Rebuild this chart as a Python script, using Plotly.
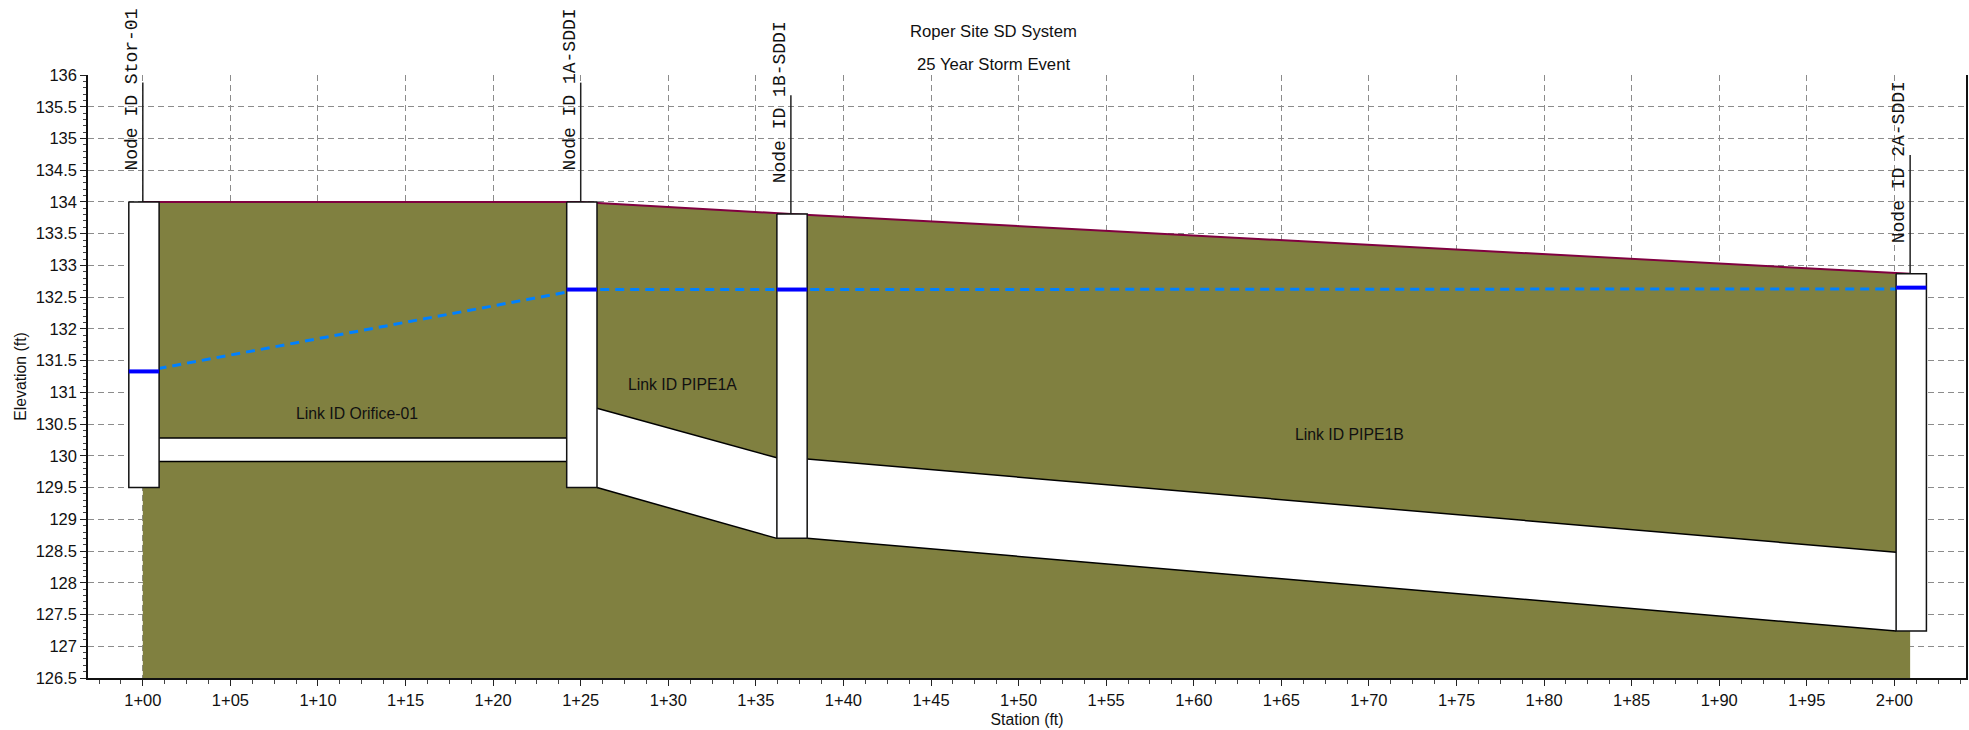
import plotly.graph_objects as go

# ---- data ----
node_ids = ["Stor-01", "1A-SDDI", "1B-SDDI", "2A-SDDI"]
node_station = [100.0, 125.0, 137.0, 200.9]
node_top = [134.0, 134.0, 133.81, 132.87]
node_invert = [129.5, 129.5, 128.7, 127.24]
node_stem_top = [135.88, 135.88, 135.68, 134.74]
node_water = [131.33, 132.62, 132.62, 132.65]
label_center = [135.77, 135.77, 135.57, 134.63]

water_line = [131.33, 132.62, 132.62, 132.63]

link_ids = ["Orifice-01", "PIPE1A", "PIPE1B"]
link_top_up = [130.28, 130.75, 129.95]
link_top_down = [130.28, 129.97, 128.48]
link_inv_up = [129.91, 129.5, 128.7]
link_inv_down = [129.91, 128.7, 127.24]
link_label_x = [112.2, 130.8, 168.9]
link_label_y = [130.66, 131.13, 130.34]

station_ticks = list(range(100, 205, 5))
station_labels = ["1+00", "1+05", "1+10", "1+15", "1+20", "1+25", "1+30", "1+35", "1+40", "1+45",
                  "1+50", "1+55", "1+60", "1+65", "1+70", "1+75", "1+80", "1+85", "1+90", "1+95", "2+00"]
elev_ticks = [126.5, 127, 127.5, 128, 128.5, 129, 129.5, 130, 130.5, 131, 131.5,
              132, 132.5, 133, 133.5, 134, 134.5, 135, 135.5, 136]
elev_labels = ["126.5", "127", "127.5", "128", "128.5", "129", "129.5", "130", "130.5", "131", "131.5",
               "132", "132.5", "133", "133.5", "134", "134.5", "135", "135.5", "136"]
titles = ["Roper Site SD System", "25 Year Storm Event"]

# ---- styles ----
OLIVE = "#808040"
CROWN = "#800040"
WATER = "#0080ff"
BAR = "#0000ff"
SANS = "Liberation Sans"
MONO = "Liberation Mono"
BOX_L, BOX_R = 0.8, 0.93
Y_BOTTOM = elev_ticks[0]

fig = go.Figure()


def poly(xs, ys, fill=None, line=None, width=1.5, dash=None, name=""):
    fig.add_trace(go.Scatter(
        x=xs, y=ys, mode="lines", name=name, hoverinfo="skip",
        fill="toself" if fill else "none", fillcolor=fill,
        line=dict(color=line if line else "rgba(0,0,0,0)", width=width if line else 0, dash=dash),
    ))


# ground
gx = [node_station[0]] + node_station + [node_station[-1]]
gy = [Y_BOTTOM] + node_top + [Y_BOTTOM]
poly(gx, gy, fill=OLIVE, name="Ground")
poly(node_station, node_top, line=CROWN, width=2, name="Ground surface")

# links
for i in range(len(link_ids)):
    x0 = node_station[i] + BOX_R
    x1 = node_station[i + 1] - BOX_L
    poly([x0, x1, x1, x0, x0],
         [link_top_up[i], link_top_down[i], link_inv_down[i], link_inv_up[i], link_top_up[i]],
         fill="#ffffff", name=link_ids[i])
    poly([x0, x1], [link_top_up[i], link_top_down[i]], line="#000000", width=1.5)
    poly([x0, x1], [link_inv_up[i], link_inv_down[i]], line="#000000", width=1.5)

# hydraulic grade line
poly(node_station, water_line, line=WATER, width=3, dash="9px,6px", name="HGL")

# nodes
for i in range(len(node_ids)):
    s = node_station[i]
    poly([s, s], [node_top[i], node_stem_top[i]], line="#222222", width=1.5)
    x0, x1 = s - BOX_L, s + BOX_R
    poly([x0, x1, x1, x0, x0],
         [node_top[i], node_top[i], node_invert[i], node_invert[i], node_top[i]],
         fill="#ffffff", line="#111111", width=1.5, name=node_ids[i])
    poly([x0, x1], [node_water[i], node_water[i]], line=BAR, width=4)
    fig.add_annotation(x=s - 0.62, y=label_center[i], xref="x", yref="y", showarrow=False,
                       text="Node ID " + node_ids[i], textangle=-90,
                       font=dict(family=MONO, size=18, color="#111111"))

for i in range(len(link_ids)):
    fig.add_annotation(x=link_label_x[i], y=link_label_y[i], xref="x", yref="y", showarrow=False,
                       text="Link ID " + link_ids[i], font=dict(family=SANS, size=15.8, color="#111111"))

# titles sit above the plot area; paper coordinates are relative to that area
for t, py in zip(titles, [20, 53]):
    fig.add_annotation(x=(993 - 87.5) / 1878.5, y=(677.7 - py) / 602.4, xref="paper", yref="paper",
                       showarrow=False, text=t, font=dict(family=SANS, size=16.7, color="#111111"))

GRID = "#8c8c8c"
fig.update_xaxes(
    range=[96.87, 204.09], tickmode="array", tickvals=station_ticks, ticktext=station_labels,
    showgrid=True, gridcolor=GRID, griddash="6px,4px", gridwidth=1, zeroline=False,
    ticks="outside", ticklen=6, tickcolor="#222222", showline=True, linecolor="#111111", linewidth=1.5,
    tickfont=dict(family=SANS, size=16.5, color="#111111"),
    minor=dict(dtick=1.25, tick0=100, ticks="outside", ticklen=4, tickcolor="#444444", showgrid=False),
    title=dict(text="Station (ft)", font=dict(family=SANS, size=15.8, color="#111111"), standoff=6),
)
fig.update_yaxes(
    range=[126.5, 136], tickmode="array", tickvals=elev_ticks, ticktext=elev_labels,
    showgrid=True, gridcolor=GRID, griddash="6px,4px", gridwidth=1, zeroline=False,
    ticks="outside", ticklen=6, tickcolor="#222222", showline=True, mirror=True,
    linecolor="#111111", linewidth=1.5,
    tickfont=dict(family=SANS, size=16.5, color="#111111"),
    minor=dict(dtick=0.1, tick0=126.5, ticks="outside", ticklen=3, tickcolor="#444444", showgrid=False),
    title=dict(text="Elevation (ft)", font=dict(family=SANS, size=15.8, color="#111111"), standoff=5),
)
fig.update_layout(
    width=1969, height=730, showlegend=False,
    margin=dict(l=87.5, r=3, t=75.3, b=52.3, autoexpand=False),
    paper_bgcolor="#ffffff", plot_bgcolor="#ffffff",
)
fig.write_html("out.html", config={"displayModeBar": False},
               post_script="document.body.style.margin='0';document.body.style.overflow='hidden';")
